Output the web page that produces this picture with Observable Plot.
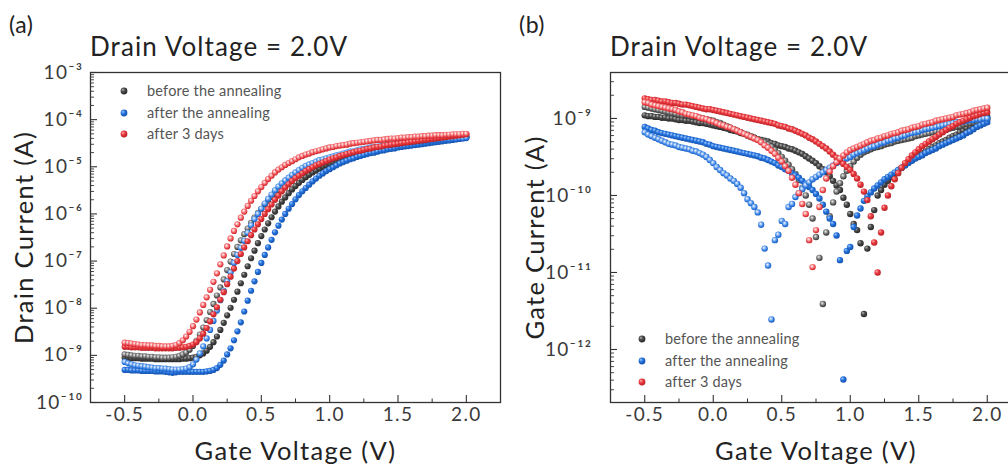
<!DOCTYPE html>
<html>
<head>
<meta charset="utf-8">
<script src="https://cdn.jsdelivr.net/npm/d3@7"></script>
<script src="https://cdn.jsdelivr.net/npm/@observablehq/plot@0.6"></script>
<style>
html, body { margin: 0; padding: 0; width: 1008px; height: 465px; overflow: hidden; background: #fff; }
body { position: relative; font-family: Lato, "DejaVu Sans", sans-serif; }
#panelA, #panelB { position: absolute; top: 0; height: 465px; }
#panelA { left: 0; width: 504px; }
#panelB { left: 504px; width: 517px; }
#panelA svg, #panelB svg { max-width: none !important; display: block; }
.txt { position: absolute; white-space: nowrap; line-height: 1; }
.title { font-size: 26px; color: #222; letter-spacing: 1.1px; }
.tag { font-size: 23px; color: #222; letter-spacing: 0.5px; }
.leg { position: absolute; font-size: 14.5px; color: #555; white-space: nowrap; height: 20px; line-height: 20px; letter-spacing: 0.2px; }
.leg svg { position: absolute; left: -28px; top: 5px; }
</style>
</head>
<body>
<svg width="0" height="0" style="position:absolute">
  <defs>
    <radialGradient id="kS" cx="0.42" cy="0.4" r="0.62" fx="0.32" fy="0.3">
      <stop offset="0" stop-color="#b5b5b5"/><stop offset="0.45" stop-color="#4a4a4a"/><stop offset="1" stop-color="#262626"/>
    </radialGradient>
    <radialGradient id="kH" cx="0.45" cy="0.42" r="0.6" fx="0.38" fy="0.34">
      <stop offset="0" stop-color="#f2f2f2"/><stop offset="0.35" stop-color="#a0a0a0"/><stop offset="0.72" stop-color="#555555"/><stop offset="1" stop-color="#333333"/>
    </radialGradient>
    <radialGradient id="bS" cx="0.42" cy="0.4" r="0.62" fx="0.32" fy="0.3">
      <stop offset="0" stop-color="#a9cbf7"/><stop offset="0.45" stop-color="#2473e0"/><stop offset="1" stop-color="#1450a8"/>
    </radialGradient>
    <radialGradient id="bH" cx="0.45" cy="0.42" r="0.6" fx="0.38" fy="0.34">
      <stop offset="0" stop-color="#f4f8ff"/><stop offset="0.35" stop-color="#8fbaf2"/><stop offset="0.72" stop-color="#2a78e2"/><stop offset="1" stop-color="#1a5ab8"/>
    </radialGradient>
    <radialGradient id="rS" cx="0.42" cy="0.4" r="0.62" fx="0.32" fy="0.3">
      <stop offset="0" stop-color="#f8b3b5"/><stop offset="0.45" stop-color="#ec3a3f"/><stop offset="1" stop-color="#b51f24"/>
    </radialGradient>
    <radialGradient id="rH" cx="0.45" cy="0.42" r="0.6" fx="0.38" fy="0.34">
      <stop offset="0" stop-color="#fff4f4"/><stop offset="0.35" stop-color="#f7a3a5"/><stop offset="0.72" stop-color="#ee4045"/><stop offset="1" stop-color="#c0262b"/>
    </radialGradient>
  </defs>
</svg>

<div id="panelA"></div>
<div id="panelB"></div>

<div class="txt tag" style="left:9px;top:13px">(a)</div>
<div class="txt tag" style="left:519px;top:13px">(b)</div>
<div class="txt title" style="left:90px;top:33px">Drain Voltage = 2.0V</div>
<div class="txt title" style="left:610px;top:33px">Drain Voltage = 2.0V</div>

<script>
// ---------- data ----------
const gateVoltage = [
  -0.5,-0.475,-0.45,-0.425,-0.4,-0.375,-0.35,-0.325,-0.3,-0.275,
  -0.25,-0.225,-0.2,-0.175,-0.15,-0.125,-0.1,-0.075,-0.05,-0.025,
  0,0.025,0.05,0.075,0.1,0.125,0.15,0.175,0.2,0.225,
  0.25,0.275,0.3,0.325,0.35,0.375,0.4,0.425,0.45,0.475,
  0.5,0.525,0.55,0.575,0.6,0.625,0.65,0.675,0.7,0.725,
  0.75,0.775,0.8,0.825,0.85,0.875,0.9,0.925,0.95,0.975,
  1,1.025,1.05,1.075,1.1,1.125,1.15,1.175,1.2,1.225,
  1.25,1.275,1.3,1.325,1.35,1.375,1.4,1.425,1.45,1.475,
  1.5,1.525,1.55,1.575,1.6,1.625,1.65,1.675,1.7,1.725,
  1.75,1.775,1.8,1.825,1.85,1.875,1.9,1.925,1.95,1.975,
  2
];

const seriesNames = ["before the annealing", "after the annealing", "after 3 days"];

// Panel (a): log10 of drain current (A)
const drainBeforeSweep1 = [
  -8.98,-8.99,-9.00,-9.01,-9.01,-9.02,-9.02,-9.03,-9.03,-9.04,
  -9.04,-9.05,-9.05,-9.05,-9.04,-9.03,-9.01,-8.98,-8.94,-8.88,
  -8.80,-8.69,-8.56,-8.41,-8.25,-8.08,-7.91,-7.73,-7.56,-7.39,
  -7.19,-7.01,-6.85,-6.70,-6.56,-6.43,-6.31,-6.19,-6.08,-5.98,
  -5.89,-5.80,-5.72,-5.64,-5.57,-5.50,-5.44,-5.38,-5.32,-5.27,
  -5.22,-5.17,-5.13,-5.09,-5.05,-5.01,-4.98,-4.95,-4.92,-4.89,
  -4.86,-4.83,-4.81,-4.78,-4.76,-4.74,-4.72,-4.70,-4.68,-4.66,
  -4.65,-4.63,-4.62,-4.60,-4.59,-4.58,-4.56,-4.55,-4.54,-4.53,
  -4.52,-4.51,-4.50,-4.49,-4.48,-4.47,-4.46,-4.45,-4.44,-4.43,
  -4.43,-4.42,-4.41,-4.40,-4.40,-4.39,-4.38,-4.38,-4.37,-4.37,
  -4.36
];
const drainBeforeSweep2 = [
  -9.05,-9.05,-9.06,-9.06,-9.06,-9.07,-9.07,-9.07,-9.07,-9.08,
  -9.08,-9.08,-9.08,-9.08,-9.08,-9.08,-9.08,-9.07,-9.07,-9.06,
  -9.05,-9.03,-9.00,-8.96,-8.90,-8.82,-8.72,-8.60,-8.46,-8.31,
  -8.15,-7.99,-7.82,-7.65,-7.47,-7.29,-7.11,-6.94,-6.78,-6.62,
  -6.47,-6.33,-6.20,-6.07,-5.95,-5.84,-5.74,-5.65,-5.56,-5.48,
  -5.41,-5.34,-5.28,-5.22,-5.17,-5.12,-5.08,-5.04,-5.00,-4.97,
  -4.94,-4.91,-4.88,-4.86,-4.83,-4.81,-4.79,-4.77,-4.75,-4.73,
  -4.72,-4.70,-4.68,-4.67,-4.65,-4.64,-4.63,-4.61,-4.60,-4.59,
  -4.58,-4.57,-4.55,-4.54,-4.53,-4.52,-4.51,-4.50,-4.49,-4.48,
  -4.47,-4.46,-4.45,-4.44,-4.43,-4.42,-4.41,-4.40,-4.39,-4.38,
  -4.37
];
const drainAnnealSweep1 = [
  -9.14,-9.17,-9.19,-9.21,-9.22,-9.23,-9.24,-9.25,-9.26,-9.27,
  -9.27,-9.28,-9.28,-9.29,-9.30,-9.30,-9.30,-9.29,-9.28,-9.25,
  -9.19,-9.09,-8.96,-8.81,-8.64,-8.46,-8.27,-8.05,-7.83,-7.63,
  -7.43,-7.24,-7.04,-6.87,-6.72,-6.57,-6.40,-6.24,-6.11,-6.00,
  -5.89,-5.78,-5.68,-5.59,-5.50,-5.42,-5.35,-5.29,-5.23,-5.17,
  -5.12,-5.07,-5.02,-4.98,-4.95,-4.92,-4.89,-4.86,-4.84,-4.82,
  -4.80,-4.78,-4.76,-4.74,-4.72,-4.70,-4.68,-4.67,-4.65,-4.63,
  -4.62,-4.61,-4.59,-4.58,-4.57,-4.56,-4.55,-4.54,-4.53,-4.52,
  -4.51,-4.50,-4.49,-4.48,-4.48,-4.47,-4.46,-4.46,-4.45,-4.44,
  -4.44,-4.43,-4.42,-4.42,-4.41,-4.41,-4.40,-4.40,-4.39,-4.39,
  -4.38
];
const drainAnnealSweep2 = [
  -9.31,-9.31,-9.32,-9.32,-9.32,-9.33,-9.33,-9.33,-9.33,-9.34,
  -9.34,-9.34,-9.35,-9.36,-9.37,-9.36,-9.35,-9.35,-9.35,-9.35,
  -9.35,-9.35,-9.35,-9.35,-9.34,-9.33,-9.31,-9.27,-9.20,-9.11,
  -8.98,-8.85,-8.68,-8.49,-8.30,-8.07,-7.84,-7.63,-7.43,-7.23,
  -7.04,-6.87,-6.71,-6.55,-6.39,-6.25,-6.12,-6.00,-5.89,-5.79,
  -5.69,-5.60,-5.52,-5.45,-5.38,-5.31,-5.25,-5.19,-5.14,-5.09,
  -5.05,-5.01,-4.97,-4.93,-4.90,-4.87,-4.84,-4.82,-4.79,-4.77,
  -4.75,-4.73,-4.71,-4.70,-4.68,-4.66,-4.65,-4.63,-4.62,-4.61,
  -4.59,-4.58,-4.57,-4.56,-4.55,-4.54,-4.53,-4.52,-4.51,-4.50,
  -4.49,-4.48,-4.47,-4.46,-4.45,-4.44,-4.43,-4.42,-4.41,-4.40,
  -4.39
];
const drain3DaysSweep1 = [
  -8.73,-8.74,-8.75,-8.76,-8.77,-8.78,-8.78,-8.79,-8.79,-8.80,
  -8.80,-8.81,-8.81,-8.81,-8.80,-8.78,-8.74,-8.68,-8.60,-8.50,
  -8.38,-8.24,-8.09,-7.93,-7.77,-7.61,-7.44,-7.26,-7.07,-6.88,
  -6.69,-6.52,-6.36,-6.22,-6.08,-5.95,-5.83,-5.72,-5.62,-5.52,
  -5.43,-5.34,-5.26,-5.19,-5.12,-5.06,-5.01,-4.96,-4.92,-4.88,
  -4.84,-4.80,-4.77,-4.74,-4.72,-4.69,-4.67,-4.65,-4.63,-4.61,
  -4.59,-4.58,-4.56,-4.55,-4.54,-4.53,-4.51,-4.50,-4.49,-4.48,
  -4.47,-4.46,-4.45,-4.44,-4.43,-4.43,-4.42,-4.41,-4.40,-4.40,
  -4.39,-4.38,-4.38,-4.37,-4.37,-4.36,-4.36,-4.35,-4.35,-4.34,
  -4.34,-4.33,-4.33,-4.33,-4.32,-4.32,-4.31,-4.31,-4.31,-4.30,
  -4.30
];
const drain3DaysSweep2 = [
  -8.82,-8.82,-8.83,-8.83,-8.83,-8.84,-8.84,-8.84,-8.84,-8.85,
  -8.85,-8.85,-8.85,-8.85,-8.85,-8.84,-8.84,-8.83,-8.82,-8.80,
  -8.77,-8.72,-8.64,-8.54,-8.42,-8.28,-8.13,-7.98,-7.82,-7.66,
  -7.49,-7.33,-7.16,-7.00,-6.85,-6.71,-6.58,-6.45,-6.33,-6.22,
  -6.11,-6.00,-5.90,-5.80,-5.70,-5.61,-5.52,-5.44,-5.37,-5.30,
  -5.24,-5.19,-5.14,-5.09,-5.05,-5.01,-4.97,-4.94,-4.91,-4.88,
  -4.85,-4.82,-4.80,-4.77,-4.75,-4.73,-4.71,-4.69,-4.67,-4.66,
  -4.64,-4.62,-4.61,-4.59,-4.58,-4.57,-4.55,-4.54,-4.53,-4.52,
  -4.51,-4.50,-4.49,-4.48,-4.47,-4.46,-4.45,-4.44,-4.43,-4.42,
  -4.41,-4.40,-4.39,-4.38,-4.37,-4.36,-4.35,-4.34,-4.33,-4.32,
  -4.31
];

// Panel (b): log10 of |gate current| (A)
const gateBeforeSweep1 = [
  -8.85,-8.86,-8.87,-8.88,-8.89,-8.90,-8.91,-8.92,-8.93,-8.94,
  -8.95,-8.96,-8.96,-8.97,-8.98,-8.98,-8.99,-9.00,-9.01,-9.02,
  -9.03,-9.05,-9.06,-9.08,-9.10,-9.12,-9.14,-9.16,-9.18,-9.20,
  -9.21,-9.23,-9.25,-9.27,-9.29,-9.31,-9.34,-9.37,-9.41,-9.45,
  -9.50,-9.55,-9.60,-9.66,-9.72,-9.80,-9.90,-10.00,-10.12,-10.30,
  -10.54,-10.81,-11.41,-10.48,-10.27,-10.09,-9.95,-9.84,-9.75,-9.68,
  -9.62,-9.56,-9.51,-9.47,-9.44,-9.42,-9.40,-9.38,-9.37,-9.36,
  -9.34,-9.33,-9.32,-9.30,-9.29,-9.28,-9.27,-9.26,-9.25,-9.23,
  -9.22,-9.21,-9.20,-9.19,-9.18,-9.17,-9.16,-9.15,-9.14,-9.13,
  -9.12,-9.11,-9.10,-9.08,-9.07,-9.06,-9.05,-9.04,-9.03,-9.02,
  -9.01
];
const gateBeforeSweep2 = [
  -8.96,-8.97,-8.97,-8.98,-8.98,-8.99,-8.99,-9.00,-9.00,-9.01,
  -9.02,-9.02,-9.03,-9.03,-9.04,-9.05,-9.06,-9.06,-9.07,-9.08,
  -9.09,-9.10,-9.11,-9.12,-9.13,-9.15,-9.16,-9.17,-9.19,-9.20,
  -9.22,-9.24,-9.25,-9.27,-9.28,-9.29,-9.30,-9.32,-9.33,-9.35,
  -9.36,-9.37,-9.39,-9.40,-9.42,-9.44,-9.46,-9.49,-9.52,-9.55,
  -9.58,-9.62,-9.66,-9.70,-9.75,-9.81,-9.87,-9.93,-10.03,-10.12,
  -10.24,-10.37,-10.45,-10.62,-11.54,-10.69,-10.41,-10.19,-10.00,-9.93,
  -9.86,-9.81,-9.76,-9.72,-9.68,-9.64,-9.60,-9.57,-9.54,-9.51,
  -9.48,-9.45,-9.43,-9.40,-9.37,-9.35,-9.32,-9.30,-9.28,-9.25,
  -9.23,-9.21,-9.18,-9.16,-9.13,-9.11,-9.08,-9.05,-9.03,-9.00,
  -8.98
];
const gateAnnealSweep1 = [
  -9.18,-9.21,-9.23,-9.25,-9.27,-9.29,-9.31,-9.33,-9.34,-9.35,
  -9.37,-9.38,-9.39,-9.40,-9.42,-9.43,-9.45,-9.47,-9.50,-9.54,
  -9.58,-9.63,-9.67,-9.71,-9.74,-9.78,-9.81,-9.85,-9.90,-9.97,
  -10.05,-10.10,-10.15,-10.22,-10.38,-10.69,-10.91,-11.61,-10.58,-10.51,
  -10.33,-10.37,-10.15,-10.11,-10.02,-9.97,-9.92,-9.87,-9.83,-9.79,
  -9.76,-9.73,-9.70,-9.67,-9.64,-9.61,-9.58,-9.56,-9.54,-9.52,
  -9.50,-9.47,-9.45,-9.43,-9.41,-9.39,-9.37,-9.36,-9.34,-9.32,
  -9.31,-9.29,-9.28,-9.26,-9.25,-9.23,-9.22,-9.20,-9.19,-9.18,
  -9.17,-9.15,-9.14,-9.13,-9.12,-9.11,-9.10,-9.09,-9.08,-9.07,
  -9.06,-9.05,-9.05,-9.04,-9.03,-9.02,-9.02,-9.01,-9.01,-9.00,
  -9.00
];
const gateAnnealSweep2 = [
  -9.11,-9.13,-9.15,-9.16,-9.18,-9.19,-9.20,-9.21,-9.22,-9.23,
  -9.24,-9.25,-9.26,-9.27,-9.28,-9.29,-9.30,-9.31,-9.33,-9.34,
  -9.36,-9.37,-9.38,-9.39,-9.40,-9.41,-9.42,-9.43,-9.44,-9.45,
  -9.46,-9.47,-9.48,-9.49,-9.51,-9.52,-9.54,-9.56,-9.58,-9.61,
  -9.63,-9.66,-9.68,-9.71,-9.74,-9.77,-9.81,-9.85,-9.89,-9.93,
  -9.98,-10.04,-10.12,-10.21,-10.30,-10.37,-10.52,-10.84,-12.39,-10.72,
  -10.67,-10.41,-10.26,-10.17,-10.07,-10.01,-9.96,-9.91,-9.87,-9.83,
  -9.79,-9.76,-9.73,-9.70,-9.67,-9.64,-9.61,-9.58,-9.55,-9.52,
  -9.50,-9.48,-9.45,-9.43,-9.41,-9.39,-9.36,-9.34,-9.32,-9.30,
  -9.28,-9.26,-9.24,-9.22,-9.19,-9.17,-9.14,-9.11,-9.09,-9.07,
  -9.05
];
const gate3DaysSweep1 = [
  -8.79,-8.80,-8.82,-8.83,-8.84,-8.85,-8.86,-8.87,-8.88,-8.89,
  -8.91,-8.92,-8.94,-8.95,-8.96,-8.97,-8.99,-9.00,-9.01,-9.03,
  -9.04,-9.06,-9.08,-9.09,-9.11,-9.12,-9.14,-9.16,-9.18,-9.20,
  -9.22,-9.24,-9.26,-9.28,-9.31,-9.35,-9.38,-9.42,-9.46,-9.51,
  -9.56,-9.62,-9.68,-9.77,-9.86,-9.97,-10.11,-10.24,-10.58,-10.93,
  -10.45,-10.15,-9.93,-9.78,-9.69,-9.62,-9.57,-9.52,-9.48,-9.44,
  -9.41,-9.39,-9.37,-9.35,-9.33,-9.31,-9.29,-9.28,-9.26,-9.25,
  -9.23,-9.22,-9.20,-9.19,-9.18,-9.16,-9.15,-9.14,-9.12,-9.11,
  -9.10,-9.08,-9.07,-9.06,-9.05,-9.03,-9.02,-9.01,-9.00,-8.99,
  -8.98,-8.96,-8.95,-8.94,-8.93,-8.92,-8.90,-8.89,-8.88,-8.87,
  -8.86
];
const gate3DaysSweep2 = [
  -8.74,-8.75,-8.76,-8.76,-8.77,-8.78,-8.78,-8.79,-8.80,-8.80,
  -8.81,-8.82,-8.82,-8.83,-8.84,-8.85,-8.86,-8.87,-8.88,-8.88,
  -8.89,-8.90,-8.91,-8.92,-8.93,-8.94,-8.95,-8.96,-8.97,-8.98,
  -8.99,-9.00,-9.01,-9.02,-9.03,-9.04,-9.05,-9.06,-9.07,-9.09,
  -9.10,-9.11,-9.13,-9.14,-9.16,-9.18,-9.20,-9.22,-9.25,-9.27,
  -9.30,-9.33,-9.36,-9.39,-9.43,-9.47,-9.51,-9.55,-9.59,-9.63,
  -9.67,-9.72,-9.78,-9.86,-9.95,-10.06,-10.27,-10.61,-11.00,-10.48,
  -10.16,-10.00,-9.88,-9.79,-9.71,-9.64,-9.58,-9.53,-9.48,-9.44,
  -9.40,-9.36,-9.33,-9.30,-9.27,-9.24,-9.21,-9.18,-9.15,-9.12,
  -9.10,-9.07,-9.05,-9.03,-9.01,-8.99,-8.97,-8.96,-8.94,-8.93,
  -8.92
];

// axis ticks
const xTickValues = [-0.5, 0, 0.5, 1, 1.5, 2];
const xMinorTickValues = [-0.25, 0.25, 0.75, 1.25, 1.75];
const drainTickValues = [1e-10, 1e-9, 1e-8, 1e-7, 1e-6, 1e-5, 1e-4, 1e-3];
const gateTickValues = [1e-12, 1e-11, 1e-10, 1e-9];

// ---------- helpers ----------
const all = [drainBeforeSweep1, drainBeforeSweep2, drainAnnealSweep1, drainAnnealSweep2, drain3DaysSweep1, drain3DaysSweep2,
  gateBeforeSweep1, gateBeforeSweep2, gateAnnealSweep1, gateAnnealSweep2, gate3DaysSweep1, gate3DaysSweep2];
all.forEach((a, i) => { if (a.length !== gateVoltage.length) throw new Error("array " + i + " has length " + a.length); });

const supMap = {"-": "\u207B", "0": "\u2070", "1": "\u00B9", "2": "\u00B2", "3": "\u00B3", "4": "\u2074", "5": "\u2075", "6": "\u2076", "7": "\u2077", "8": "\u2078", "9": "\u2079"};
const powFormat = d => "10" + String(Math.round(Math.log10(d))).split("").map(c => supMap[c]).join("");
const minorOf = (decades, lo, hi) => decades.concat([decades[0] / 10])
  .flatMap(d => [2, 3, 4, 5, 6, 7, 8, 9].map(m => d * m)).filter(v => v > lo && v < hi);

const INK = "#333";

function panel({series, width, marginLeft, marginRight, yDomain, yTicks, yPad, yLabel, yLabelDx, r}) {
  const H = 465, mt = 72, mb = 63;
  const fw = width - marginLeft - marginRight, fh = H - mt - mb;
  const dots = series.map(s => Plot.dot(
    gateVoltage.map((v, i) => ({V: v, I: Math.pow(10, s.values[i])})),
    {x: "V", y: "I", r, fill: s.fill}
  ));
  const svg = Plot.plot({
    width, height: H, marginLeft, marginRight, marginTop: mt, marginBottom: mb,
    x: {domain: [-0.75, 2.25]},
    y: {type: "log", domain: yDomain},
    style: {fontFamily: "Lato, 'DejaVu Sans', sans-serif", background: "transparent", color: "#3a3a3a", overflow: "visible", letterSpacing: "1.3px", maxWidth: "none"},
    marks: [
      ...dots,
      Plot.frame({stroke: INK, strokeWidth: 1.3}),
      Plot.tickX(xTickValues, {x: d => d, insetTop: fh - 7, stroke: INK, strokeWidth: 1.1}),
      Plot.tickX(xMinorTickValues, {x: d => d, insetTop: fh - 3.5, stroke: INK, strokeWidth: 1}),
      Plot.tickY(yTicks, {y: d => d, insetRight: fw - 7, stroke: INK, strokeWidth: 1.1}),
      Plot.tickY(minorOf(yTicks, yDomain[0], yDomain[1]), {y: d => d, insetRight: fw - 4, stroke: INK, strokeWidth: 0.9}),
      Plot.axisX(xTickValues, {tickSize: 0, tickPadding: 5, tickFormat: d => d.toFixed(1), fontSize: 19, label: null, color: "#3a3a3a"}),
      Plot.axisY(yTicks, {tickSize: 0, tickPadding: yPad, tickFormat: powFormat, fontSize: 19, label: null, color: "#3a3a3a"}),
      Plot.text(["Gate Voltage (V)"], {text: d => d, frameAnchor: "bottom", textAnchor: "middle", lineAnchor: "middle", dy: 49, fontSize: 25.5, fill: "#222"}),
      Plot.text([yLabel], {text: d => d, frameAnchor: "left", textAnchor: "middle", lineAnchor: "middle", rotate: -90, dx: yLabelDx, fontSize: 25.5, fill: "#222"})
    ]
  });
  return svg;
}

document.getElementById("panelA").append(panel({
  series: [
    {values: drainBeforeSweep2, fill: "url(#kS)"},
    {values: drainBeforeSweep1, fill: "url(#kH)"},
    {values: drainAnnealSweep2, fill: "url(#bS)"},
    {values: drainAnnealSweep1, fill: "url(#bH)"},
    {values: drain3DaysSweep2, fill: "url(#rS)"},
    {values: drain3DaysSweep1, fill: "url(#rH)"}
  ],
  width: 504, marginLeft: 90, marginRight: 4,
  yDomain: [1e-10, 1e-3], yTicks: drainTickValues, yPad: 7,
  yLabel: "Drain Current (A)", yLabelDx: -66, r: 3.1
}));

document.getElementById("panelB").append(panel({
  series: [
    {values: gateBeforeSweep2, fill: "url(#kS)"},
    {values: gateBeforeSweep1, fill: "url(#kH)"},
    {values: gateAnnealSweep2, fill: "url(#bS)"},
    {values: gateAnnealSweep1, fill: "url(#bH)"},
    {values: gate3DaysSweep2, fill: "url(#rS)"},
    {values: gate3DaysSweep1, fill: "url(#rH)"}
  ],
  width: 517, marginLeft: 106, marginRight: 0,
  yDomain: [2.05e-13, 3.95e-9], yTicks: gateTickValues, yPad: 18,
  yLabel: "Gate Current (A)", yLabelDx: -75, r: 3.2
}));

// legends (HTML, real text)
function legend(left, top, spacing) {
  const grads = ["kS", "bS", "rS"];
  seriesNames.forEach((name, i) => {
    const d = document.createElement("div");
    d.className = "leg";
    d.style.left = left + "px";
    d.style.top = (top + i * spacing) + "px";
    d.innerHTML = `<svg width="10" height="10"><circle cx="5" cy="5" r="3.4" fill="url(#${grads[i]})"/></svg>`;
    d.append(document.createTextNode(name));
    document.body.append(d);
  });
}
legend(147, 81, 21.5);
legend(665, 329, 21.5);
</script>
</body>
</html>
